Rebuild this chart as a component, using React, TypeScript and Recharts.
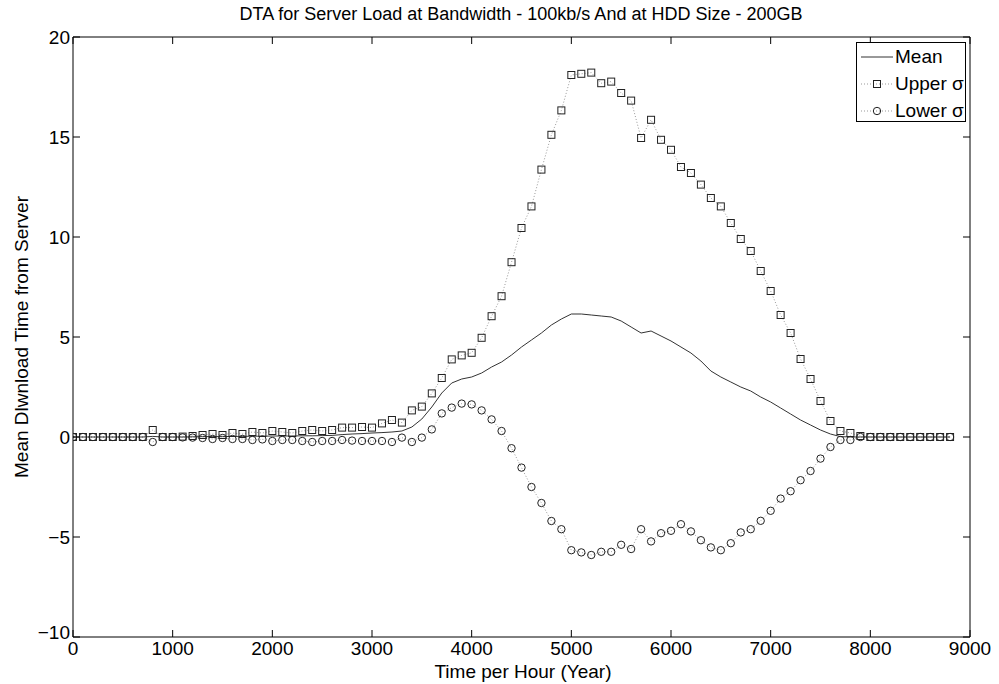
import React from 'react';
import { LineChart, Line, XAxis, YAxis } from 'recharts';

const xHours = [
  0, 100, 200, 300, 400, 500, 600, 700, 800, 900,
  1000, 1100, 1200, 1300, 1400, 1500, 1600, 1700, 1800, 1900,
  2000, 2100, 2200, 2300, 2400, 2500, 2600, 2700, 2800, 2900,
  3000, 3100, 3200, 3300, 3400, 3500, 3600, 3700, 3800, 3900,
  4000, 4100, 4200, 4300, 4400, 4500, 4600, 4700, 4800, 4900,
  5000, 5100, 5200, 5300, 5400, 5500, 5600, 5700, 5800, 5900,
  6000, 6100, 6200, 6300, 6400, 6500, 6600, 6700, 6800, 6900,
  7000, 7100, 7200, 7300, 7400, 7500, 7600, 7700, 7800, 7900,
  8000, 8100, 8200, 8300, 8400, 8500, 8600, 8700, 8800,
];

const meanValues = [
  0, 0, 0, 0, 0, 0, 0, 0, 0.03, 0,
  0, 0, 0.01, 0.02, 0.02, 0.02, 0.03, 0.03, 0.04, 0.04,
  0.05, 0.05, 0.05, 0.06, 0.06, 0.07, 0.08, 0.12, 0.15, 0.17,
  0.2, 0.22, 0.25, 0.3, 0.5, 0.9, 1.5, 2.2, 2.7, 2.9,
  3.0, 3.2, 3.5, 3.75, 4.1, 4.5, 4.85, 5.2, 5.6, 5.9,
  6.15, 6.15, 6.1, 6.05, 6.0, 5.8, 5.5, 5.2, 5.3, 5.05,
  4.8, 4.5, 4.2, 3.8, 3.3, 3.0, 2.75, 2.5, 2.3, 2.0,
  1.75, 1.45, 1.15, 0.85, 0.6, 0.35, 0.15, 0.02, 0, 0,
  0, 0, 0, 0, 0, 0, 0, 0, 0,
];

const upperValues = [
  0, 0, 0, 0, 0, 0, 0, 0, 0.35, 0,
  0, 0.02, 0.05, 0.1, 0.15, 0.1, 0.2, 0.15, 0.25, 0.2,
  0.3, 0.25, 0.2, 0.3, 0.35, 0.3, 0.35, 0.47, 0.47, 0.5,
  0.47, 0.68, 0.85, 0.72, 1.33, 1.52, 2.18, 2.95, 3.88, 4.08,
  4.21, 4.96, 6.04, 7.04, 8.74, 10.45, 11.53, 13.37, 15.11, 16.33,
  18.1, 18.16, 18.22, 17.69, 17.77, 17.2, 16.82, 14.95, 15.86, 14.86,
  14.36, 13.5, 13.2, 12.62, 11.95, 11.53, 10.7, 9.9, 9.3, 8.3,
  7.3, 6.1, 5.2, 3.9, 2.9, 1.8, 0.8, 0.3, 0.2, 0.05,
  0, 0, 0, 0, 0, 0, 0, 0, 0,
];

const lowerValues = [
  0, 0, 0, 0, 0, 0, 0, 0, -0.25, 0,
  0, -0.02, -0.03, -0.05, -0.1, -0.05, -0.1, -0.1, -0.15, -0.12,
  -0.2, -0.15, -0.15, -0.2, -0.25, -0.2, -0.2, -0.15, -0.18, -0.2,
  -0.2, -0.2, -0.25, -0.03, -0.25, -0.03, 0.38, 1.18, 1.47, 1.67,
  1.63, 1.33, 0.88, 0.3, -0.56, -1.53, -2.5, -3.3, -4.2, -4.61,
  -5.66, -5.77, -5.9, -5.74, -5.74, -5.39, -5.6, -4.61, -5.22, -4.81,
  -4.69, -4.36, -4.72, -5.16, -5.52, -5.66, -5.31, -4.77, -4.61, -4.19,
  -3.69, -3.08, -2.71, -2.16, -1.7, -1.08, -0.5, -0.15, -0.15, 0,
  0, 0, 0, 0, 0, 0, 0, 0, 0,
];

const xTicks = [0, 1000, 2000, 3000, 4000, 5000, 6000, 7000, 8000, 9000];
const yTicks = [-10, -5, 0, 5, 10, 15, 20];

const titleText = 'DTA for Server Load at Bandwidth - 100kb/s And at HDD Size - 200GB';
const xLabelText = 'Time per Hour (Year)';
const yLabelText = 'Mean Dlwnload Time from Server';
const legendLabels = ['Mean', 'Upper \u03c3', 'Lower \u03c3'];

const data = xHours.map((x, i) => ({
  x,
  mean: meanValues[i],
  upper: upperValues[i],
  lower: lowerValues[i],
}));

const FONT = '"Liberation Sans", Arial, Helvetica, sans-serif';
const TICK_FS = 19;
const TICK_LEN = 7;

const fmt = (v: number) => (v < 0 ? '\u2212' + Math.abs(v) : String(v));

const BottomTick = (p: any) => (
  <g>
    <line x1={p.x} x2={p.x} y1={p.y} y2={p.y - TICK_LEN} stroke="#000" strokeWidth={1} />
    <text x={p.x} y={p.y + 18} textAnchor="middle" fontSize={TICK_FS} fontFamily={FONT} fill="#000">
      {p.payload.value}
    </text>
  </g>
);

const TopTick = (p: any) => (
  <line x1={p.x} x2={p.x} y1={p.y} y2={p.y + TICK_LEN} stroke="#000" strokeWidth={1} />
);

const LeftTick = (p: any) => {
  const lift = p.payload.value === -10 ? -5 : 0;
  return (
    <g>
      <line x1={p.x} x2={p.x + TICK_LEN} y1={p.y} y2={p.y} stroke="#000" strokeWidth={1} />
      <text
        x={p.x - 3}
        y={p.y + lift}
        dy="0.36em"
        textAnchor="end"
        fontSize={TICK_FS}
        fontFamily={FONT}
        fill="#000"
      >
        {fmt(p.payload.value)}
      </text>
    </g>
  );
};

const RightTick = (p: any) => (
  <line x1={p.x} x2={p.x - TICK_LEN} y1={p.y} y2={p.y} stroke="#000" strokeWidth={1} />
);

const SquareDot = (p: any) => {
  if (p.cx == null || p.cy == null) return <g key={`u-${p.index}`} />;
  return (
    <rect
      key={`u-${p.index}`}
      x={p.cx - 3.5}
      y={p.cy - 3.5}
      width={7}
      height={7}
      fill="none"
      stroke="#222"
      strokeWidth={1}
    />
  );
};

const CircleDot = (p: any) => {
  if (p.cx == null || p.cy == null) return <g key={`l-${p.index}`} />;
  return <circle key={`l-${p.index}`} cx={p.cx} cy={p.cy} r={3.7} fill="none" stroke="#222" strokeWidth={1} />;
};

const LegendRow = ({ kind, label }: { kind: 'mean' | 'upper' | 'lower'; label: string }) => (
  <div style={{ display: 'flex', alignItems: 'center', height: 27 }}>
    <svg width={36} height={14} style={{ marginLeft: 2 }}>
      {kind === 'mean' ? (
        <line x1={2} x2={34} y1={7} y2={7} stroke="#333" strokeWidth={1} />
      ) : (
        <line x1={2} x2={34} y1={7} y2={7} stroke="#999" strokeWidth={1} strokeDasharray="1 2" />
      )}
      {kind === 'upper' && <rect x={14.5} y={3.5} width={7} height={7} fill="none" stroke="#222" />}
      {kind === 'lower' && <circle cx={18} cy={7} r={3.7} fill="none" stroke="#222" />}
    </svg>
    <span style={{ fontSize: 19, fontFamily: FONT, color: '#000', whiteSpace: 'nowrap' }}>{label}</span>
  </div>
);

export default function App() {
  return (
    <div
      style={{
        position: 'absolute',
        left: 0,
        top: 0,
        width: 999,
        height: 684,
        background: '#fff',
        fontFamily: FONT,
      }}
    >
      <LineChart
        width={999}
        height={684}
        data={data}
        margin={{ top: 0, right: 0, bottom: 0, left: 0 }}
      >
        <XAxis
          xAxisId="bottom"
          dataKey="x"
          type="number"
          domain={[0, 9000]}
          ticks={xTicks}
          interval={0}
          height={47}
          tickSize={0}
          tickMargin={0}
          tickLine={false}
          axisLine={{ stroke: '#000', strokeWidth: 1 }}
          tick={BottomTick}
          allowDataOverflow
        />
        <XAxis
          xAxisId="top"
          orientation="top"
          dataKey="x"
          type="number"
          domain={[0, 9000]}
          ticks={xTicks}
          interval={0}
          height={37}
          tickSize={0}
          tickMargin={0}
          tickLine={false}
          axisLine={{ stroke: '#000', strokeWidth: 1 }}
          tick={TopTick}
          allowDataOverflow
        />
        <YAxis
          yAxisId="left"
          type="number"
          domain={[-10, 20]}
          ticks={yTicks}
          interval={0}
          width={73}
          tickSize={0}
          tickMargin={0}
          tickLine={false}
          axisLine={{ stroke: '#000', strokeWidth: 1 }}
          tick={LeftTick}
          allowDataOverflow
        />
        <YAxis
          yAxisId="right"
          orientation="right"
          type="number"
          domain={[-10, 20]}
          ticks={yTicks}
          interval={0}
          width={29}
          tickSize={0}
          tickMargin={0}
          tickLine={false}
          axisLine={{ stroke: '#000', strokeWidth: 1 }}
          tick={RightTick}
          allowDataOverflow
        />
        <Line
          xAxisId="bottom"
          yAxisId="left"
          type="linear"
          dataKey="upper"
          stroke="#999"
          strokeWidth={1}
          strokeDasharray="1 2"
          dot={SquareDot}
          activeDot={false}
          isAnimationActive={false}
        />
        <Line
          xAxisId="bottom"
          yAxisId="left"
          type="linear"
          dataKey="lower"
          stroke="#999"
          strokeWidth={1}
          strokeDasharray="1 2"
          dot={CircleDot}
          activeDot={false}
          isAnimationActive={false}
        />
        <Line
          xAxisId="bottom"
          yAxisId="left"
          type="linear"
          dataKey="mean"
          stroke="#333"
          strokeWidth={1}
          dot={false}
          activeDot={false}
          isAnimationActive={false}
        />
      </LineChart>

      <div
        style={{
          position: 'absolute',
          left: 0,
          width: 1042,
          top: 4,
          textAlign: 'center',
          fontSize: 18,
          color: '#000',
          whiteSpace: 'nowrap',
        }}
      >
        {titleText}
      </div>

      <div
        style={{
          position: 'absolute',
          left: 0,
          width: 1046,
          top: 662,
          lineHeight: '19px',
          textAlign: 'center',
          fontSize: 19,
          color: '#000',
          whiteSpace: 'nowrap',
        }}
      >
        {xLabelText}
      </div>

      <div
        style={{
          position: 'absolute',
          left: 22,
          top: 337,
          transform: 'translate(-50%, -50%) rotate(-90deg)',
          fontSize: 19,
          color: '#000',
          whiteSpace: 'nowrap',
        }}
      >
        {yLabelText}
      </div>

      <div
        style={{
          position: 'absolute',
          left: 856,
          top: 42,
          width: 110,
          height: 80,
          border: '1px solid #000',
          background: '#fff',
          boxSizing: 'border-box',
          paddingTop: 0,
        }}
      >
        <LegendRow kind="mean" label={legendLabels[0]} />
        <LegendRow kind="upper" label={legendLabels[1]} />
        <LegendRow kind="lower" label={legendLabels[2]} />
      </div>
    </div>
  );
}
